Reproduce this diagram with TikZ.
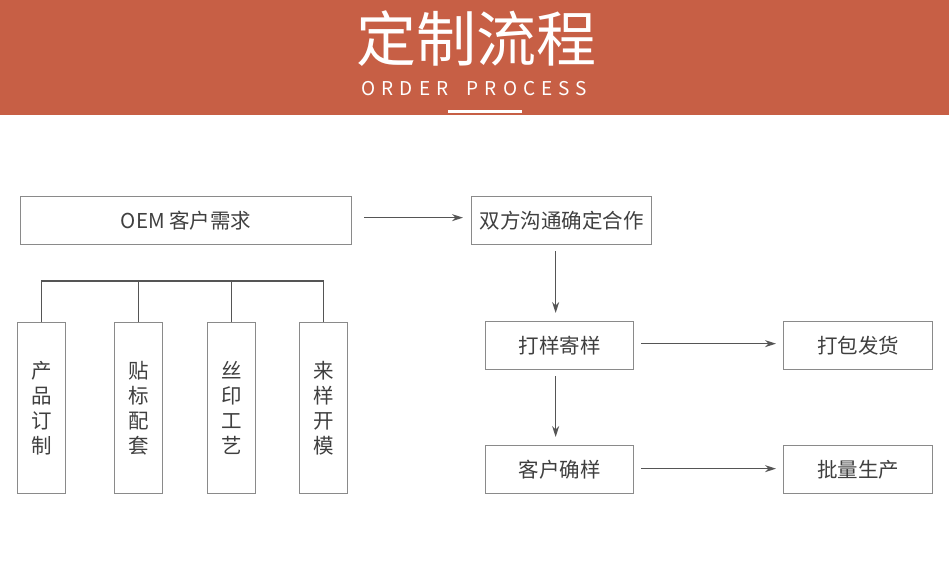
\documentclass[tikz,border=0pt]{standalone}
\usepackage{fontspec}
\setmainfont{Noto Sans CJK SC}
\definecolor{bannerred}{HTML}{C75F45}
\definecolor{boxgray}{HTML}{8A8A8A}
\definecolor{linegray}{HTML}{555555}
\definecolor{textgray}{HTML}{3F3F3F}
\usetikzlibrary{arrows.meta,positioning}

\begin{document}
\begin{tikzpicture}[x=1pt,y=-1pt,
    stepbox/.style={draw=boxgray,line width=1.3pt,text=textgray,font=\fontsize{20.5}{24}\selectfont,minimum height=48pt,inner sep=0pt,anchor=north west},
    tallbox/.style={stepbox,minimum width=48pt,minimum height=171pt,align=center,font=\fontsize{20.5}{25}\selectfont},
    subword/.style={white,inner sep=0pt,font=\fontsize{19}{19}\selectfont\addfontfeature{LetterSpace=32}},
    flow/.style={draw=linegray,line width=1.2pt,-{Stealth[length=11pt,width=7pt]}},
    tree/.style={draw=linegray,line width=1.2pt}]
    \useasboundingbox (0,0) rectangle (949,562);
    % banner
    \fill[bannerred] (0,0) rectangle (949,115);
    \node[white,font=\fontsize{60}{60}\selectfont] (title) at (476,39) {定制流程};
    \node[subword] (orderword) at (405,89) {ORDER};
    \node[subword] (processword) at (527,89) {PROCESS};
    \draw[white,line width=3pt] (448,111) -- (522,111);
    % left part
    \node[stepbox,minimum width=331pt] (oem) at (20,196) {OEM 客户需求};
    \node[tallbox] (custom) at (17,322) {产\\品\\订\\制};
    \node[tallbox] (label) at (114,322) {贴\\标\\配\\套};
    \node[tallbox] (print) at (207,322) {丝\\印\\工\\艺};
    \node[tallbox] (mold) at (299,322) {来\\样\\开\\模};
    \coordinate (bus) at (0,281);
    \draw[tree] (custom.north) |- (bus -| mold.north) -- (mold.north);
    \foreach \n in {label,print}
        \draw[tree] (\n.north) -- (\n.north |- bus);
    % right part
    \node[stepbox,minimum width=180pt] (talk) at (471,196) {双方沟通确定合作};
    \node[stepbox,minimum width=148pt] (sample) at (485,321) {打样寄样};
    \node[stepbox,minimum width=149pt] (ship) at (783,321) {打包发货};
    \node[stepbox,minimum width=148pt] (confirm) at (485,445) {客户确样};
    \node[stepbox,minimum width=149pt] (mass) at (783,445) {批量生产};
    \draw[flow] ([xshift=12pt,yshift=3pt]oem.east) -- ([xshift=-8pt,yshift=3pt]talk.west);
    \draw[flow] ([xshift=-4pt,yshift=-6pt]talk.south -| sample.north) -- ([xshift=-4pt,yshift=8pt]sample.north);
    \draw[flow] ([xshift=-4pt,yshift=-6pt]sample.south) -- ([xshift=-4pt,yshift=8pt]confirm.north);
    \draw[flow] ([xshift=7pt,yshift=2pt]sample.east) -- ([xshift=-7pt,yshift=2pt]ship.west);
    \draw[flow] ([xshift=7pt,yshift=1pt]confirm.east) -- ([xshift=-7pt,yshift=1pt]mass.west);
\end{tikzpicture}
\end{document}
